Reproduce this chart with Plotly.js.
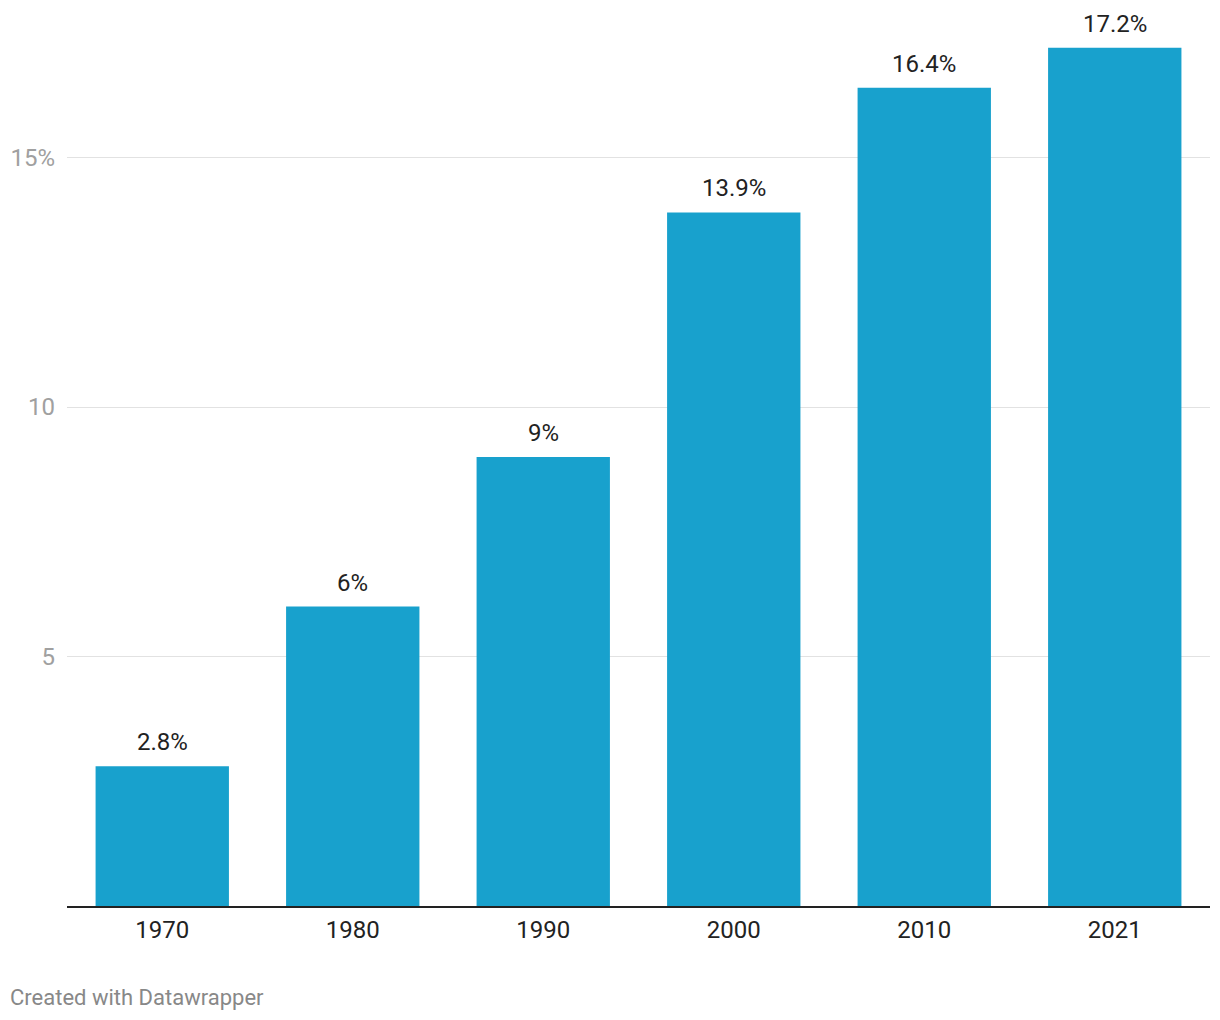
<!DOCTYPE html>
<html>
<head>
<meta charset="utf-8">
<script src="https://cdn.plot.ly/plotly-3.0.1.min.js"></script>
<style>
html,body{margin:0;padding:0;background:#fff;}
#chart{width:1220px;height:1020px;}
</style>
</head>
<body>
<div id="chart"></div>
<script>
const years = ["1970", "1980", "1990", "2000", "2010", "2021"];
const shares = [2.8, 6, 9, 13.9, 16.4, 17.2];
const labels = ["2.8%", "6%", "9%", "13.9%", "16.4%", "17.2%"];
const yTickVals = [5, 10, 15];
const yTickText = ["5", "10", "15%"];

const font = "Roboto, 'Noto Sans', sans-serif";

const trace = {
  type: "bar",
  x: years,
  y: shares,
  marker: {color: "#18a1cd"},
  hoverinfo: "skip"
};

const annotations = years.map((yr, i) => ({
  x: i, y: shares[i], xref: "x", yref: "y",
  text: labels[i], showarrow: false,
  yanchor: "bottom", yshift: 8,
  font: {family: font, size: 24, color: "#222"}
}));
annotations.push({
  xref: "paper", yref: "paper",
  x: (8 - 67) / 1143, y: (906 - 997) / 906,
  xanchor: "left", yanchor: "middle",
  text: "Created with Datawrapper", showarrow: false,
  font: {family: font, size: 22, color: "#888"}
});

const layout = {
  width: 1220, height: 1020,
  margin: {l: 67, r: 10, t: 0, b: 114},
  paper_bgcolor: "#fff", plot_bgcolor: "#fff",
  bargap: 0.3,
  showlegend: false,
  font: {family: font},
  xaxis: {
    type: "category",
    range: [-0.5, years.length - 0.5],
    showline: true, linecolor: "#222", linewidth: 2,
    showgrid: false, zeroline: false,
    ticks: "", ticklabelstandoff: 1,
    tickfont: {family: font, size: 24, color: "#222"}
  },
  yaxis: {
    range: [0, 906 / 49.9],
    tickvals: yTickVals, ticktext: yTickText,
    showgrid: true, gridcolor: "#e2e2e2", gridwidth: 1,
    zeroline: false, showline: false, ticks: "",
    ticklabelstandoff: 11,
    tickfont: {family: font, size: 24, color: "#a0a0a0"}
  },
  annotations: annotations
};

Plotly.newPlot("chart", [trace], layout, {displayModeBar: false, staticPlot: true});
</script>
</body>
</html>
